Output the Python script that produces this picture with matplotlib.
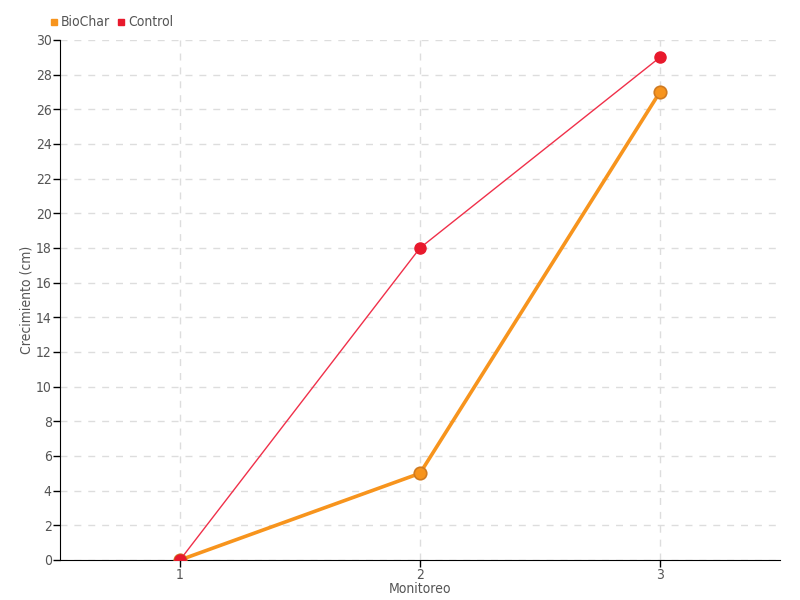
import matplotlib
matplotlib.use('Agg')
import matplotlib.pyplot as plt
from matplotlib.lines import Line2D

# datos
monitoreo = [1, 2, 3]
biochar = [0, 5, 27]
control = [0, 18, 29]
y_ticks = list(range(0, 31, 2))

plt.rcParams['font.family'] = ['DejaVu Sans']
plt.rcParams['font.stretch'] = 'condensed'
text_color = '#555555'

fig = plt.figure(figsize=(8, 6), dpi=100)
ax = fig.add_axes([0.075, 0.0667, 0.9, 0.8667])

ax.plot(monitoreo, biochar, color='#f7941d', linewidth=2.6, marker='o',
        markersize=9, markerfacecolor='#f7941d', markeredgecolor='#d07a20',
        markeredgewidth=1.2, zorder=3)
ax.plot(monitoreo, control, color='#f0304a', linewidth=1, marker='o',
        markersize=8, markerfacecolor='#e8192c', markeredgecolor='#e8192c',
        zorder=4)

ax.set_xlim(0.5, 3.5)
ax.set_ylim(0, 30)
ax.set_xticks(monitoreo)
ax.set_yticks(y_ticks)

ax.grid(True, color='#dddddd', linestyle=(0, (5, 5)), linewidth=1)
ax.set_axisbelow(True)
for s in ['top', 'right']:
    ax.spines[s].set_visible(False)
ax.spines['left'].set_color('black')
ax.spines['bottom'].set_color('black')

ax.tick_params(axis='both', colors='black', labelcolor=text_color, labelsize=10,
               length=5, width=1, pad=1)

ax.set_xlabel('Monitoreo', color=text_color, fontsize=10, labelpad=0)
ax.set_ylabel('Crecimiento (cm)', color=text_color, fontsize=10)
# etiqueta Y cerca de los ticks como en el original
ax.yaxis.set_label_coords(-0.037, 0.5)

handles = [
    Line2D([], [], marker='s', linestyle='none', color='#f7941d', markersize=5),
    Line2D([], [], marker='s', linestyle='none', color='#e8192c', markersize=5),
]
fig.legend(handles, ['BioChar', 'Control'], loc='upper left',
           bbox_to_anchor=(0.045, 0.995), ncol=2, frameon=False,
           handletextpad=0.1, columnspacing=0.4, handlelength=0.8,
           labelcolor=text_color, fontsize=10)

plt.savefig('out.png', dpi=100, facecolor='white')
